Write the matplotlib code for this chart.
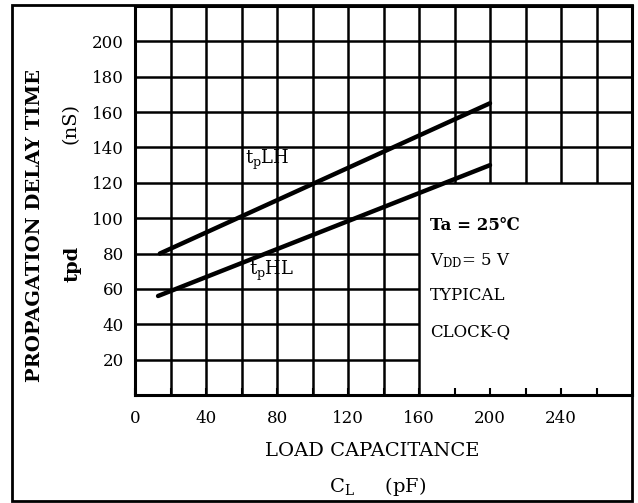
import matplotlib.pyplot as plt
from matplotlib.patches import Rectangle

plt.rcParams['font.family'] = ['DejaVu Serif']
plt.rcParams['mathtext.fontset'] = 'custom'
plt.rcParams['mathtext.rm'] = 'DejaVu Serif'
plt.rcParams['mathtext.it'] = 'DejaVu Serif'

# straight lines (pF, nS)
cl_lh = [14, 200]
tpd_lh = [80, 165]
cl_hl = [13, 200]
tpd_hl = [56, 130]

x_ticks = [0, 40, 80, 120, 160, 200, 240]
y_ticks = [20, 40, 60, 80, 100, 120, 140, 160, 180, 200]
conditions = ['Ta = 25℃', r'V$_{\rm DD}$= 5 V', 'TYPICAL', 'CLOCK-Q']

W, H = 638, 503
fig = plt.figure(figsize=(W / 100, H / 100), dpi=100)
ax = fig.add_axes([135 / W, 1 - 395 / H, (632 - 135) / W, (395 - 6) / H])
ax.set_xlim(0, 280)
ax.set_ylim(0, 220)

# grid, left blank where the conditions box sits (x>160, y<120)
for x in range(20, 280, 20):
    ax.vlines(x, 120 if x > 160 else 0, 220, color='black', lw=1.8)
for y in range(20, 220, 20):
    ax.hlines(y, 0, 160 if y < 120 else 280, color='black', lw=1.8)

ax.plot(cl_lh, tpd_lh, color='black', lw=3.2, solid_capstyle='round')
ax.plot(cl_hl, tpd_hl, color='black', lw=3.2, solid_capstyle='round')

ax.text(62, 133, r't$_{\rm p}$LH', fontsize=13, va='center')
ax.text(64, 70, r't$_{\rm p}$HL', fontsize=13, va='center')

for i, s in enumerate(conditions):
    ax.text(166, 96 - i * 20, s, fontsize=12, va='center',
            fontweight='bold' if i == 0 else 'normal')

ax.set_xticks(x_ticks)
ax.set_xticks(range(0, 280, 20), minor=True)
ax.set_yticks(y_ticks)
ax.tick_params(axis='x', which='both', direction='in', length=5, width=1.5,
               pad=11, labelsize=12)
ax.tick_params(axis='y', length=0, pad=8, labelsize=12)
for sp in ax.spines.values():
    sp.set_linewidth(2.2)

# outer frame
fig.patches.append(Rectangle((12 / W, 1 - 501 / H), (632 - 12) / W, (501 - 5) / H,
                             transform=fig.transFigure, fill=False,
                             lw=2, ec='black'))

fig.text(35 / W, 1 - 225 / H, 'PROPAGATION DELAY TIME', rotation=90,
         ha='center', va='center', fontsize=14, fontweight='bold')
fig.text(71 / W, 1 - 124 / H, '(nS)', rotation=90, ha='center', va='center',
         fontsize=14)
fig.text(72 / W, 1 - 264 / H, 'tpd', rotation=90, ha='center', va='center',
         fontsize=14, fontweight='bold')
fig.text(372 / W, 1 - 451 / H, 'LOAD CAPACITANCE', ha='center', va='center',
         fontsize=14)
fig.text(378 / W, 1 - 486 / H, r'C$_{\rm L}$     (pF)', ha='center',
         va='center', fontsize=14)

fig.savefig('out.png', dpi=100)
